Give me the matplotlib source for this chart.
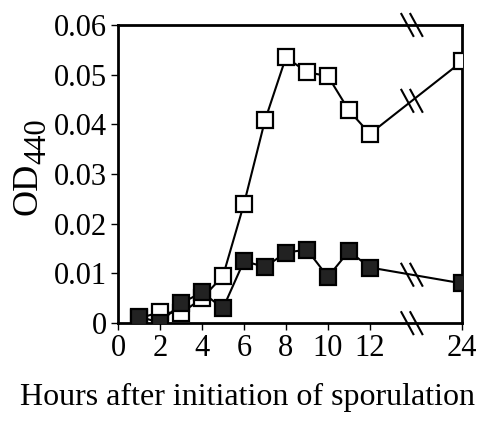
import numpy as np
import matplotlib
matplotlib.use("Agg")
import matplotlib.pyplot as plt

plt.rcParams['font.family'] = ['Liberation Serif', 'DejaVu Serif']

# Daten (Stunden nach Sporulationsbeginn)
hours = [1, 2, 3, 4, 5, 6, 7, 8, 9, 10, 11, 12, 24]
od_open = [0.0010, 0.0022, 0.0020, 0.0050, 0.0095, 0.0240, 0.0408, 0.0535,
           0.0505, 0.0497, 0.0428, 0.0381, 0.0527]
od_filled = [0.0013, 0.0001, 0.0040, 0.0062, 0.0030, 0.0125, 0.0113, 0.0142,
             0.0148, 0.0093, 0.0145, 0.0112, 0.0080]
x_ticks = [0, 2, 4, 6, 8, 10, 12, 24]
y_ticks = [0, 0.01, 0.02, 0.03, 0.04, 0.05, 0.06]

# Achsenbruch zwischen 12 und 24
POS_24 = 16.4
BREAK_POS = 14.0

W, H = 478, 423


def to_pos(t):
    return t if t <= 12 else POS_24


xpos = [to_pos(t) for t in hours]

fig = plt.figure(figsize=(W / 100, H / 100), dpi=100)
ax = fig.add_axes([0.247, 0.236, 0.72, 0.705])

ax.plot(xpos, od_open, color='black', lw=1.5, marker='s', ms=11.5,
        mfc='white', mec='black', mew=1.6, zorder=3)
ax.plot(xpos, od_filled, color='black', lw=1.5, marker='s', ms=11.5,
        mfc='#222222', mec='black', mew=1.6, zorder=4)

ax.set_xlim(0, POS_24)
ax.set_ylim(0, 0.06)
ax.set_xticks([to_pos(t) for t in x_ticks])
ax.set_xticklabels([str(t) for t in x_ticks])
ax.set_yticks(y_ticks)
ax.set_yticklabels(['0'] + [f'{v:.2f}' for v in y_ticks[1:]])
ax.tick_params(direction='out', length=5, width=1, labelsize=22, pad=3)
for s in ax.spines.values():
    s.set_linewidth(2)

# Achsentitel
fig.text(248 / W, 1 - 405 / H, 'Hours after initiation of sporulation',
         fontsize=23, ha='center', va='baseline')
fig.text(36 / W, 1 - 215 / H, 'OD', fontsize=26, rotation=90,
         rotation_mode='anchor', ha='left', va='baseline')
fig.text(45 / W, 1 - 164 / H, '440', fontsize=22, rotation=90,
         rotation_mode='anchor', ha='left', va='baseline')


# Bruchzeichen "\\"
def break_mark(x, y):
    px = 344 / POS_24      # pixel pro Einheit x
    py = 298 / 0.06        # pixel pro Einheit y
    for off in (-4.5, 4.5):
        xs = [x + (off - 6) / px, x + (off + 6) / px]
        ys = [y + 11 / py, y - 11 / py]
        ax.plot(xs, ys, color='black', lw=1.5, clip_on=False, zorder=6)


break_mark(BREAK_POS, 0.06)
break_mark(BREAK_POS, 0.0)
for series in (od_open, od_filled):
    frac = (BREAK_POS - 12) / (POS_24 - 12)
    yb = series[-2] + frac * (series[-1] - series[-2])
    break_mark(BREAK_POS, yb)

fig.savefig('out.png', dpi=100)
